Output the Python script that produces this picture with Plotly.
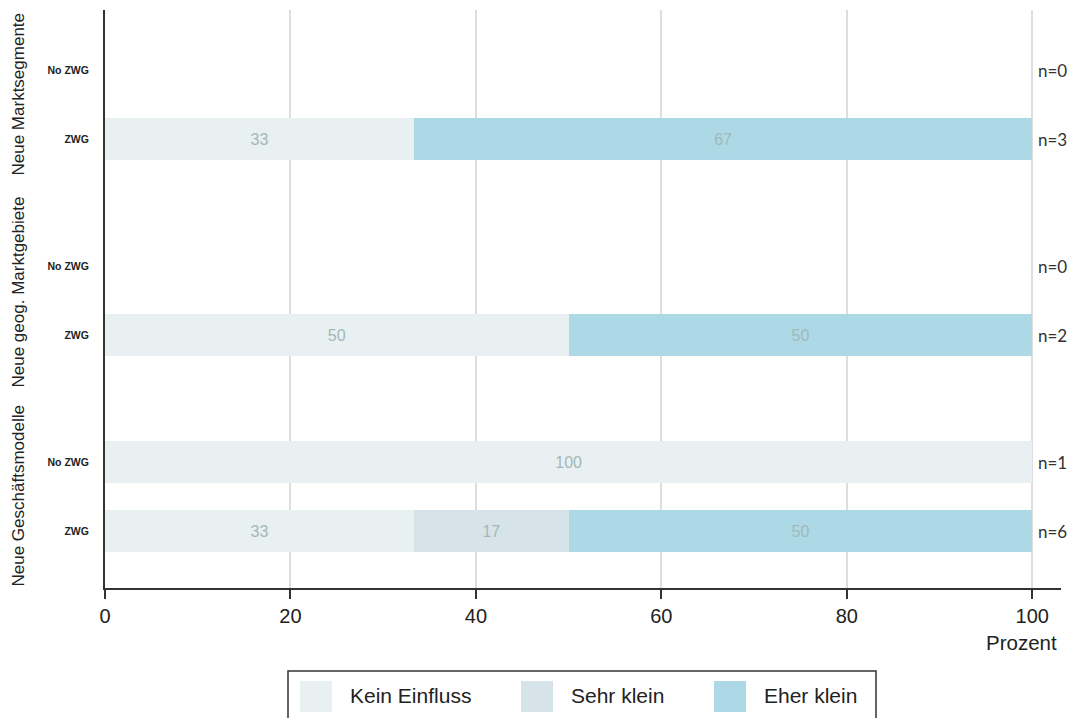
import plotly.graph_objects as go

# --- data -------------------------------------------------------------
groups = ["Neue Marktsegmente", "Neue geog. Marktgebiete", "Neue Geschäftsmodelle"]
rows = ["No ZWG", "ZWG"]
categories = ["Kein Einfluss", "Sehr klein", "Eher klein"]

# percentage shares per row (group order, then row order); None = no answers
kein_einfluss = [None, 33.33, None, 50.0, 100.0, 33.33]
sehr_klein    = [None, None,  None, None, None,  16.67]
eher_klein    = [None, 66.67, None, 50.0, None,  50.0]
n_counts      = [0, 3, 0, 2, 1, 6]

x_ticks = [0, 20, 40, 60, 80, 100]

colors = {"Kein Einfluss": "#e8f0f2", "Sehr klein": "#d6e4ea", "Eher klein": "#add8e6"}

# --- layout geometry (pixels) -----------------------------------------
W, H = 1081, 718
L, R, T, B = 105, 20, 10, 130
plot_w, plot_h = W - L - R, H - T - B

def px(xp):
    return (xp - L) / plot_w

def py(yp):
    return (H - B - yp) / plot_h

# row y positions on a pixel-like scale: groups separated by a wider gap
row_y = []
for g in range(len(groups)):
    for r in range(len(rows)):
        row_y.append(70 + g * 196 + r * 69)
row_labels = [rows[r] for g in range(len(groups)) for r in range(len(rows))]

fig = go.Figure()
series = [("Kein Einfluss", kein_einfluss), ("Sehr klein", sehr_klein), ("Eher klein", eher_klein)]
for name, vals in series:
    fig.add_trace(go.Bar(
        name=name, orientation="h", x=vals, y=row_y, width=42,
        marker=dict(color=colors[name], line=dict(width=0)),
        texttemplate="%{x:.0f}", textposition="inside", insidetextanchor="middle",
        textfont=dict(family="Liberation Sans, Arial", size=16, color="#a3b8b8"),
        constraintext="none", showlegend=False, hoverinfo="skip",
    ))

fig.update_layout(
    barmode="stack", width=W, height=H,
    margin=dict(l=L, r=R, t=T, b=B),
    paper_bgcolor="white", plot_bgcolor="white",
    font=dict(family="Liberation Sans, Arial", color="#222"),
    uniformtext=dict(mode=False),
)
fig.update_xaxes(
    range=[0, 103.1], tickvals=x_ticks, ticktext=[str(v) for v in x_ticks],
    showgrid=True, gridcolor="#dedede", gridwidth=2, zeroline=False,
    showline=True, linecolor="#333", linewidth=2,
    ticks="outside", ticklen=9, tickwidth=1.5, tickcolor="#333",
    tickfont=dict(size=20, color="#222"),
)
fig.update_yaxes(
    range=[H - B, T], tickvals=row_y, ticktext=row_labels,
    showgrid=False, zeroline=False, showline=True, linecolor="#333", linewidth=2,
    ticks="", ticklabelstandoff=12,
    tickfont=dict(size=10.5, color="#222", weight="bold"),
)

# group labels on the far left, each centred on its pair of rows
label_shift = [-10, -8, 0]
for g, name in enumerate(groups):
    yc = (row_y[2 * g] + row_y[2 * g + 1]) / 2 + label_shift[g]
    fig.add_annotation(text=name, xref="paper", yref="paper", x=px(18), y=py(yc),
                       textangle=-90, showarrow=False, xanchor="center", yanchor="middle",
                       font=dict(size=17, color="#222"))

# n labels on the right
for yv, n in zip(row_y, n_counts):
    fig.add_annotation(text=f"n={n}", xref="paper", yref="y", x=px(1036), y=yv,
                       showarrow=False, xanchor="left", yanchor="middle",
                       font=dict(family="Lato, Open Sans", size=17, color="#333"))

# axis title under the last tick
fig.add_annotation(text="Prozent", xref="paper", yref="paper", x=px(1059), y=py(642),
                   showarrow=False, xanchor="right", yanchor="middle",
                   font=dict(size=20.5, color="#222"))

# legend box with square swatches
fig.add_shape(type="rect", xref="paper", yref="paper", x0=px(288), x1=px(876),
              y0=py(671), y1=py(740), line=dict(color="#333", width=1.5), fillcolor="white")
sw_x = [300, 521, 714]
for name, x0 in zip(categories, sw_x):
    fig.add_shape(type="rect", xref="paper", yref="paper", x0=px(x0), x1=px(x0 + 32),
                  y0=py(681), y1=py(712), line=dict(width=0), fillcolor=colors[name])
    fig.add_annotation(text=name, xref="paper", yref="paper", x=px(x0 + 48), y=py(695),
                       showarrow=False, xanchor="left", yanchor="middle",
                       font=dict(size=21, color="#222"))

fig.write_html("out.html")
